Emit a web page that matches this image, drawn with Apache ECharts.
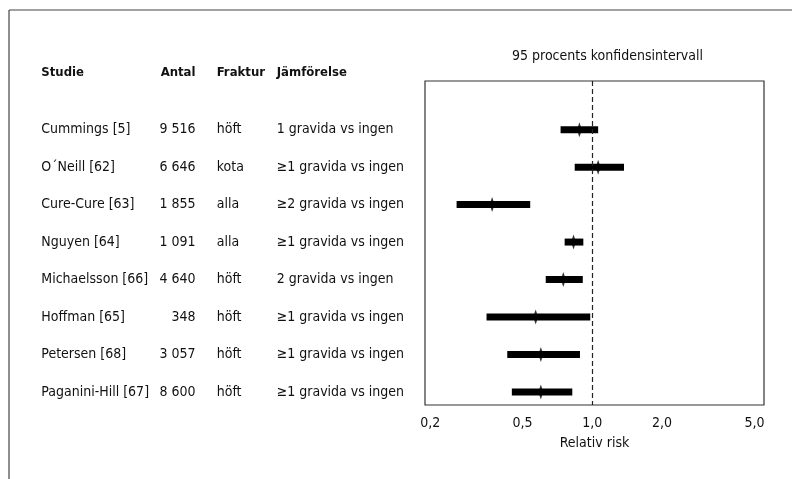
<!DOCTYPE html>
<html>
<head>
<meta charset="utf-8">
<script src="https://cdn.jsdelivr.net/npm/echarts@6/dist/echarts.min.js"></script>
<style>
  html, body { margin: 0; padding: 0; background: #fff; }
  #chart { width: 792px; height: 479px; }
</style>
</head>
<body>
<div id="chart"></div>
<script>
// table columns
const studies = ["Cummings [5]", "O\u00B4Neill [62]", "Cure-Cure [63]", "Nguyen [64]",
  "Michaelsson [66]", "Hoffman [65]", "Petersen [68]", "Paganini-Hill [67]"];
const antal = ["9 516", "6 646", "1 855", "1 091", "4 640", "348", "3 057", "8 600"];
const fraktur = ["höft", "kota", "alla", "alla", "höft", "höft", "höft", "höft"];
const jamforelse = ["1 gravida vs ingen", "≥1 gravida vs ingen", "≥2 gravida vs ingen",
  "≥1 gravida vs ingen", "2 gravida vs ingen", "≥1 gravida vs ingen",
  "≥1 gravida vs ingen", "≥1 gravida vs ingen"];

// relativ risk + 95% KI
const rrPoint = [0.88, 1.06, 0.37, 0.83, 0.75, 0.57, 0.60, 0.60];
const ciLow = [0.73, 0.84, 0.26, 0.76, 0.63, 0.35, 0.43, 0.45];
const ciHigh = [1.06, 1.37, 0.54, 0.915, 0.91, 0.98, 0.885, 0.82];

const xTicks = [0.2, 0.5, 1, 2, 5];
const refValue = 1;

const FONT = "'Liberation Sans Narrow', 'DejaVu Sans Condensed', sans-serif";
const FS = 14;
const rows = studies.map((_, i) => i);

const chart = echarts.init(document.getElementById("chart"));

// en y-axel per tabellkolumn, placerad till vänster om rutan
function tableAxis(name, texts, x, align) {
  return {
    type: "value",
    gridIndex: 0,
    position: "left",
    offset: 425 - x,
    min: -1.3,
    max: 7.35,
    inverse: true,
    name: name,
    nameLocation: "start",
    nameGap: 8,
    nameTextStyle: {
      fontFamily: FONT, fontSize: 13, fontWeight: "bold", color: "#111",
      align: align, verticalAlign: "middle",
    },
    axisLine: { show: false },
    axisTick: { show: false },
    splitLine: { show: false },
    axisLabel: {
      customValues: rows,
      margin: 0,
      align: align,
      fontFamily: FONT,
      fontSize: FS,
      color: "#111",
      formatter: (v) => texts[Math.round(v)] ?? "",
    },
  };
}

chart.setOption({
  animation: false,
  title: {
    text: "95 procents konfidensintervall",
    left: 512,
    top: 49,
    padding: 0,
    textStyle: { fontFamily: FONT, fontSize: FS, fontWeight: "normal", color: "#111" },
  },
  graphic: [
    { type: "line", shape: { x1: 9, y1: 10, x2: 792, y2: 10 }, style: { stroke: "#444", lineWidth: 1.2 } },
    { type: "line", shape: { x1: 9, y1: 10, x2: 9, y2: 479 }, style: { stroke: "#444", lineWidth: 1.2 } },
  ],
  grid: {
    left: 425, right: 28, top: 81, height: 324,
    show: true, borderColor: "#333", borderWidth: 1.2,
  },
  xAxis: {
    type: "log",
    min: 0.19,
    max: 5.5,
    name: "Relativ risk",
    nameLocation: "middle",
    nameGap: 31,
    nameTextStyle: { fontFamily: FONT, fontSize: FS, color: "#111" },
    axisLine: { show: false },
    axisTick: { show: false },
    splitLine: { show: false },
    axisLabel: {
      customValues: xTicks,
      margin: 11,
      fontFamily: FONT,
      fontSize: FS,
      color: "#111",
      formatter: (v) => v.toFixed(1).replace(".", ","),
    },
  },
  yAxis: [
    {
      type: "value", min: -1.3, max: 7.35, inverse: true,
      axisLine: { show: false }, axisTick: { show: false },
      splitLine: { show: false }, axisLabel: { show: false },
    },
    tableAxis("Studie", studies, 41.3, "left"),
    tableAxis("Antal", antal, 195.5, "right"),
    tableAxis("Fraktur", fraktur, 216.7, "left"),
    tableAxis("Jämförelse", jamforelse, 276.7, "left"),
  ],
  series: [
    {
      type: "custom",
      data: rows.map((i) => [ciLow[i], ciHigh[i], i]),
      encode: { x: [0, 1], y: 2 },
      renderItem: (params, api) => {
        const a = api.coord([api.value(0), api.value(2)]);
        const b = api.coord([api.value(1), api.value(2)]);
        return {
          type: "rect",
          shape: { x: a[0], y: a[1] - 3.5, width: b[0] - a[0], height: 7 },
          style: { fill: "#000" },
        };
      },
      z: 2,
    },
    {
      type: "scatter",
      data: rows.map((i) => [rrPoint[i], i]),
      symbol: "diamond",
      symbolSize: [5, 15],
      itemStyle: { color: "#000" },
      z: 3,
      markLine: {
        silent: true,
        symbol: "none",
        label: { show: false },
        lineStyle: { color: "#222", type: [5, 3], width: 1.2 },
        data: [{ xAxis: refValue }],
      },
    },
  ],
});
</script>
</body>
</html>
